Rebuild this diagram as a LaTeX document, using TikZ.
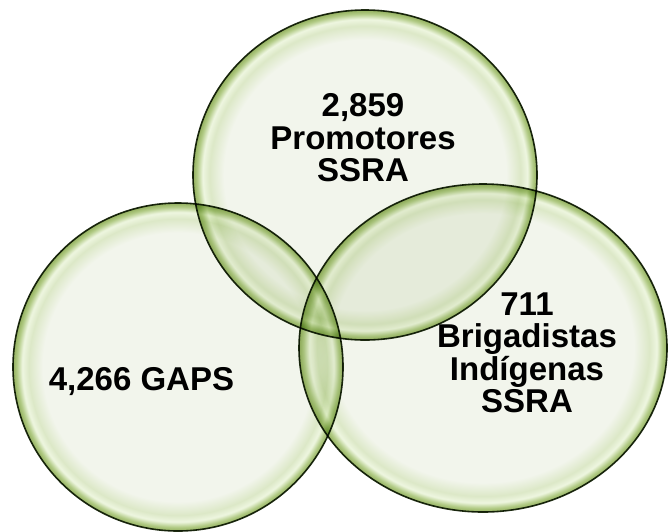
\documentclass[tikz,border=0pt]{standalone}
\usepackage{fontspec}
\setmainfont{Liberation Sans}
\usetikzlibrary{shapes.geometric}
\definecolor{bubC}{HTML}{F2F5EC}
\definecolor{bubM}{HTML}{DCE8C7}
\definecolor{bubH}{HTML}{EEF6E0}
\definecolor{bubG}{HTML}{B2CB86}
\definecolor{bubD}{HTML}{93B05E}
\definecolor{rim}{HTML}{1E2B12}
\pgfdeclareradialshading{bubble}{\pgfpoint{0bp}{0bp}}{%
  color(0bp)=(bubC); color(20.5bp)=(bubC); color(22.6bp)=(bubM);
  color(23.6bp)=(bubH); color(24.4bp)=(bubG); color(25bp)=(bubD);
  color(50bp)=(bubD)}
\begin{document}
\begin{tikzpicture}[x=1pt,y=-1pt,
bubble/.style ={ellipse, draw=rim, line width=1.6pt, shading=bubble,
  inner sep=0pt, outer sep=0pt, blend mode=multiply
},
lbl/.style ={align=center, inner sep=0pt, font=\bfseries\fontsize{33}{32.5}\selectfont
}]
\useasboundingbox (0,0) rectangle (668,531);
\node (gaps) at (178,367) [bubble, minimum width=330pt, minimum height=328pt] {};
\node (promo) at (365,175) [bubble, minimum width=344pt, minimum height=330pt] {};
\node (briga) at (483,348) [bubble, minimum width=368pt, minimum height=328pt] {};

\node (gapsT) at (141.5,390) [lbl, anchor=base] {4,266 GAPS};
\node (promoT) at (363,138) [lbl] {2,859\\Promotores\\SSRA};
\node (brigaT) at (527,353) [lbl] {711\\Brigadistas\\Indígenas\\SSRA};

\end{tikzpicture}
\end{document}
